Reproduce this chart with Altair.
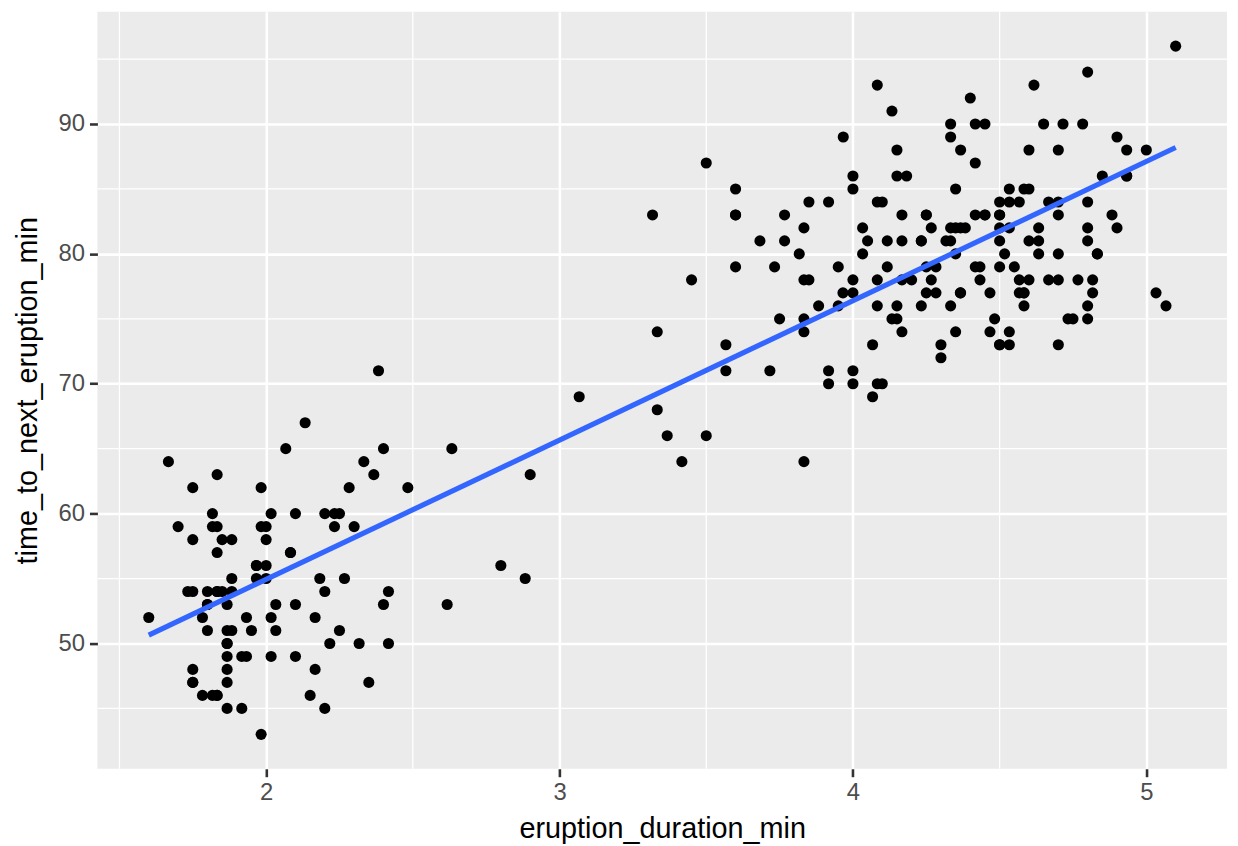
import altair as alt
import pandas as pd

eruptions = [3.600,1.800,3.333,2.283,4.533,2.883,4.700,3.600,1.950,4.350,1.833,3.917,4.200,1.750,4.700,2.167,1.750,4.800,1.600,4.250,
1.800,1.750,3.450,3.067,4.533,3.600,1.967,4.083,3.850,4.433,4.300,4.467,3.367,4.033,3.833,2.017,1.867,4.833,1.833,4.783,
4.350,1.883,4.567,1.750,4.533,3.317,3.833,2.100,4.633,2.000,4.800,4.716,1.833,4.833,1.733,4.883,3.717,1.667,4.567,4.317,
2.233,4.500,1.750,4.800,1.817,4.400,4.167,4.700,2.067,4.700,4.033,1.967,4.500,4.000,1.983,5.067,2.017,4.567,3.883,3.600,
4.133,4.333,4.100,2.633,4.067,4.933,3.950,4.517,2.167,4.000,2.200,4.333,1.867,4.817,1.833,4.300,4.667,3.750,1.867,4.900,
2.483,4.367,2.100,4.500,4.050,1.867,4.700,1.783,4.850,3.683,4.733,2.300,4.900,4.417,1.700,4.633,2.317,4.600,1.817,4.417,
2.617,4.067,4.250,1.967,4.600,3.767,1.917,4.500,2.267,4.650,1.867,4.167,2.800,4.333,1.833,4.383,1.883,4.933,2.033,3.733,
4.233,2.233,4.533,4.817,4.333,1.983,4.633,2.017,5.100,1.800,5.033,4.000,2.400,4.600,3.567,4.000,4.500,4.083,1.800,3.967,
2.200,4.150,2.000,3.833,3.500,4.583,2.367,5.000,1.933,4.617,1.917,2.083,4.583,3.333,4.167,4.333,4.500,2.417,4.000,4.167,
1.883,4.583,4.250,3.767,2.033,4.433,4.083,1.833,4.417,2.183,4.800,1.833,4.800,4.100,3.966,4.233,3.500,4.366,2.250,4.667,
2.100,4.350,4.133,1.867,4.600,1.783,4.367,3.850,1.933,4.500,2.383,4.700,1.867,3.833,3.417,4.233,2.400,4.800,2.000,4.150,
1.867,4.267,1.750,4.483,4.000,4.117,4.083,4.267,3.917,4.550,4.083,2.417,4.183,2.217,4.450,1.883,1.850,4.283,3.950,2.333,
4.150,2.350,4.933,2.900,4.583,3.833,2.083,4.367,2.133,4.350,2.200,4.450,3.567,4.500,4.150,3.817,3.917,4.450,2.000,4.283,
4.767,4.533,1.850,4.250,1.983,2.250,4.750,4.117,2.150,4.417,1.817,4.467]

waiting = [79,54,74,62,85,55,88,85,51,85,54,84,78,47,83,52,62,84,52,79,
51,47,78,69,74,83,55,76,78,79,73,77,66,80,74,52,48,80,59,90,
80,58,84,58,73,83,64,53,82,59,75,90,54,80,54,83,71,64,77,81,
59,84,48,82,60,92,78,78,65,73,82,56,79,71,62,76,60,78,76,83,
75,82,70,65,73,88,76,80,48,86,60,90,50,78,63,72,84,75,51,82,
62,88,49,83,81,47,84,52,86,81,75,59,89,79,59,81,50,85,59,87,
53,69,77,56,88,81,45,82,55,90,45,83,56,89,46,82,51,86,53,79,
81,60,82,77,76,59,80,49,96,53,77,77,65,81,71,70,81,93,53,89,
45,86,58,78,66,76,63,88,52,93,49,57,77,68,81,81,73,50,85,74,
55,77,83,83,51,78,84,46,83,55,81,57,76,84,77,81,87,77,51,78,
60,82,91,53,78,46,77,84,49,83,71,80,49,75,64,76,53,94,55,76,
50,82,54,75,78,79,78,78,70,79,70,54,86,50,90,54,54,77,79,64,
75,47,86,63,85,82,57,82,67,74,54,83,73,73,88,80,71,83,56,79,
78,84,58,83,43,60,75,81,46,90,46,74]

x_major = [2, 3, 4, 5]
x_minor = [1.5, 2.5, 3.5, 4.5]
y_major = [50, 60, 70, 80, 90]
y_minor = [45, 55, 65, 75, 85, 95]

df = pd.DataFrame({"eruption_duration_min": eruptions, "time_to_next_eruption_min": waiting})

x_scale = alt.Scale(domain=[1.425, 5.275], nice=False, zero=False)
y_scale = alt.Scale(domain=[40.35, 98.65], nice=False, zero=False)

FONT = "Liberation Sans"

x_axis = alt.Axis(values=x_major, grid=True, gridColor="white", gridWidth=2.6, domain=False,
                  tickColor="#333333", tickWidth=2.6, tickSize=8, labelFontSize=24,
                  labelColor="#4D4D4D", labelPadding=4, labelFont=FONT,
                  title="eruption_duration_min", titleFontSize=29, titleFont=FONT,
                  titleColor="black", titleFontWeight="normal", titlePadding=10)
y_axis = alt.Axis(values=y_major, grid=True, gridColor="white", gridWidth=2.6, domain=False,
                  tickColor="#333333", tickWidth=2.6, tickSize=8, labelFontSize=24,
                  labelColor="#4D4D4D", labelPadding=5, labelFont=FONT,
                  title="time_to_next_eruption_min", titleFontSize=29, titleFont=FONT,
                  titleColor="black", titleFontWeight="normal", titlePadding=16)

minor_x = alt.Chart(pd.DataFrame({"v": x_minor})).mark_rule(color="white", strokeWidth=1.3).encode(
    x=alt.X("v:Q", scale=x_scale, axis=x_axis))
minor_y = alt.Chart(pd.DataFrame({"v": y_minor})).mark_rule(color="white", strokeWidth=1.3).encode(
    y=alt.Y("v:Q", scale=y_scale, axis=y_axis))

base = alt.Chart(df)
points = base.mark_circle(color="black", size=125, opacity=1).encode(
    x=alt.X("eruption_duration_min:Q", scale=x_scale, axis=x_axis),
    y=alt.Y("time_to_next_eruption_min:Q", scale=y_scale, axis=y_axis),
)
line = base.transform_regression("eruption_duration_min", "time_to_next_eruption_min").mark_line(
    color="#3366FF", strokeWidth=5.2).encode(
    x=alt.X("eruption_duration_min:Q", scale=x_scale, axis=x_axis),
    y=alt.Y("time_to_next_eruption_min:Q", scale=y_scale, axis=y_axis),
)

chart = alt.layer(minor_x, minor_y, points, line).properties(
    width=1137, height=762,
    autosize=alt.AutoSizeParams(type="none"),
    padding={"left": 90, "top": 1, "right": 3, "bottom": 75},
).configure(background="white").configure_view(fill="#EBEBEB", stroke=None)

chart.save("out.html", embed_options={"renderer": "svg", "actions": False})
